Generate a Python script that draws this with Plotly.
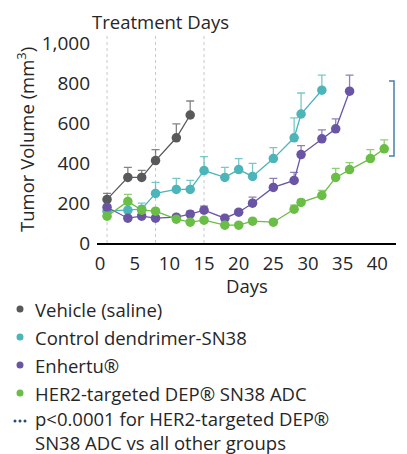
import plotly.graph_objects as go

# ---------------- data ----------------
veh_days = [1, 4, 6, 8, 11, 13]
veh_vals = [218, 328, 328, 412, 526, 640]
veh_err = [30, 50, 35, 55, 70, 70]

ctl_days = [1, 4, 6, 8, 11, 13, 15, 18, 20, 22, 25, 28, 29, 32]
ctl_vals = [159, 164, 169, 248, 268, 268, 362, 328, 367, 333, 422, 526, 645, 764]
ctl_err = [10, 10, 30, 55, 55, 45, 70, 50, 55, 65, 55, 100, 105, 75]

enh_days = [1, 4, 6, 8, 11, 13, 15, 18, 20, 22, 25, 28, 29, 32, 34, 36]
enh_vals = [179, 124, 134, 124, 129, 144, 164, 124, 154, 199, 278, 313, 442, 521, 571, 759]
enh_err = [10, 10, 10, 10, 10, 15, 20, 10, 10, 30, 45, 40, 45, 45, 50, 80]

dep_days = [1, 4, 6, 8, 11, 13, 15, 18, 20, 22, 25, 28, 29, 32, 34, 36, 39, 41]
dep_vals = [134, 208, 164, 159, 119, 104, 114, 89, 89, 109, 104, 169, 203, 238, 328, 367, 422, 471]
dep_err = [10, 35, 15, 10, 10, 10, 10, 10, 10, 10, 10, 20, 15, 25, 45, 35, 45, 45]

treatment_days = [1, 8, 15]
x_ticks = [0, 5, 10, 15, 20, 25, 30, 35, 40]
y_ticks = [0, 200, 400, 600, 800, 1000]
y_ticklabels = ["0", "200", "400", "600", "800", "1,000"]

series_names = ["Vehicle (saline)", "Control dendrimer-SN38", "Enhertu®",
                "HER2-targeted DEP® SN38 ADC"]
stat_note = "p<0.0001 for HER2-targeted DEP®<br>SN38 ADC vs all other groups"

# ---------------- style ----------------
FONT = "Open Sans"
FW = 400
TXT = "#262626"
colors = ["#58595B", "#4BB5BA", "#6A55A4", "#6ABD45"]
err_colors = ["rgba(88,89,91,0.75)", "rgba(75,181,186,0.75)",
              "rgba(106,85,164,0.75)", "rgba(106,189,69,0.75)"]

OFF = 8                      # page body margin
W, H = 407 - OFF, 454 - OFF
# plot area, in reference-picture pixels
RL, RR, RT, RB = 97, 396, 35, 243
L, R, T, B = RL - OFF, RR - OFF, RT - OFF, RB - OFF
YMAX = 1040


def px2x(px):
    return (px - RL) / (RR - RL)


def px2y(py):
    return (RB - py) / (RB - RT)


def tfont(size=18.5):
    return dict(family=FONT, size=size, color=TXT, weight=FW)


fig = go.Figure()

# treatment-day guide lines (clipped to the plot area)
gx, gy = [], []
for td in treatment_days:
    gx += [td, td, None]
    gy += [0, YMAX, None]
fig.add_trace(go.Scatter(x=gx, y=gy, mode="lines", hoverinfo="skip",
                         line=dict(color="#c8c8c8", width=1, dash="dot"),
                         showlegend=False))

all_series = [(veh_days, veh_vals, veh_err), (ctl_days, ctl_vals, ctl_err),
              (enh_days, enh_vals, enh_err), (dep_days, dep_vals, dep_err)]

for i, (d, v, e) in enumerate(all_series):
    fig.add_trace(go.Scatter(
        x=d, y=v, mode="lines+markers", name=series_names[i],
        line=dict(color=colors[i], width=1.3),
        marker=dict(color=colors[i], size=9.5),
        error_y=dict(type="data", symmetric=False, array=e,
                     arrayminus=[0] * len(e), color=err_colors[i],
                     thickness=1.3, width=4),
        showlegend=False, cliponaxis=False,
    ))

shapes = []
# significance bracket
bx, btop, bbot = 394, 81, 156
shapes.append(dict(type="path", xref="paper", yref="paper",
                   path=f"M {px2x(389)},{px2y(btop)} L {px2x(bx)},{px2y(btop)} "
                        f"L {px2x(bx)},{px2y(bbot)} L {px2x(389)},{px2y(bbot)}",
                   line=dict(color="#4A7FAD", width=1.5)))
shapes.append(dict(type="circle", xref="paper", yref="paper", xsizemode="pixel",
                   ysizemode="pixel", xanchor=px2x(402), yanchor=px2y(117),
                   x0=-1.6, x1=1.6, y0=-1.6, y1=1.6,
                   fillcolor="#1F4E79", line=dict(width=0)))

annotations = []
# legend
leg_y = [309, 337, 365, 393]
for i, name in enumerate(series_names):
    shapes.append(dict(type="circle", xref="paper", yref="paper", xsizemode="pixel",
                       ysizemode="pixel", xanchor=px2x(20), yanchor=px2y(leg_y[i]),
                       x0=-3.5, x1=3.5, y0=-3.5, y1=3.5,
                       fillcolor=colors[i], line=dict(width=0)))
    annotations.append(dict(x=px2x(33), y=px2y(leg_y[i]), xref="paper", yref="paper",
                            text=name, showarrow=False, xanchor="left",
                            yanchor="middle", font=tfont()))
for dx in [15, 20, 25]:
    shapes.append(dict(type="circle", xref="paper", yref="paper", xsizemode="pixel",
                       ysizemode="pixel", xanchor=px2x(dx), yanchor=px2y(421),
                       x0=-1.5, x1=1.5, y0=-1.5, y1=1.5,
                       fillcolor="#1F4E79", line=dict(width=0)))
annotations.append(dict(x=px2x(33), y=px2y(430), xref="paper", yref="paper",
                        text=stat_note, showarrow=False, xanchor="left", align="left",
                        yanchor="middle", font=tfont()))

# titles
annotations.append(dict(x=px2x(160), y=px2y(21), xref="paper", yref="paper",
                        text="Treatment Days", showarrow=False, xanchor="center",
                        yanchor="middle", font=tfont()))
annotations.append(dict(x=px2x(247), y=px2y(285), xref="paper", yref="paper",
                        text="Days", showarrow=False, xanchor="center",
                        yanchor="middle", font=tfont()))
annotations.append(dict(x=px2x(25), y=px2y(140), xref="paper", yref="paper",
                        text="Tumor Volume (mm<sup>3</sup>)", showarrow=False,
                        textangle=-90, xanchor="center", yanchor="middle",
                        font=tfont()))

fig.update_layout(
    width=W, height=H,
    margin=dict(l=L, r=W - R, t=T, b=H - B, pad=0),
    paper_bgcolor="white", plot_bgcolor="white",
    font=tfont(),
    shapes=shapes, annotations=annotations,
    xaxis=dict(range=[-0.45, 42.7], tickvals=x_ticks, showgrid=False, zeroline=False,
               showline=True, linecolor="black", linewidth=1.5, ticks="",
               ticklabelstandoff=3, tickfont=tfont(18.5)),
    yaxis=dict(range=[0, YMAX], tickvals=y_ticks, ticktext=y_ticklabels,
               showgrid=False, zeroline=False, showline=False, ticks="",
               ticklabelstandoff=6, tickfont=tfont(19)),
)

fig.write_html("out.html")
